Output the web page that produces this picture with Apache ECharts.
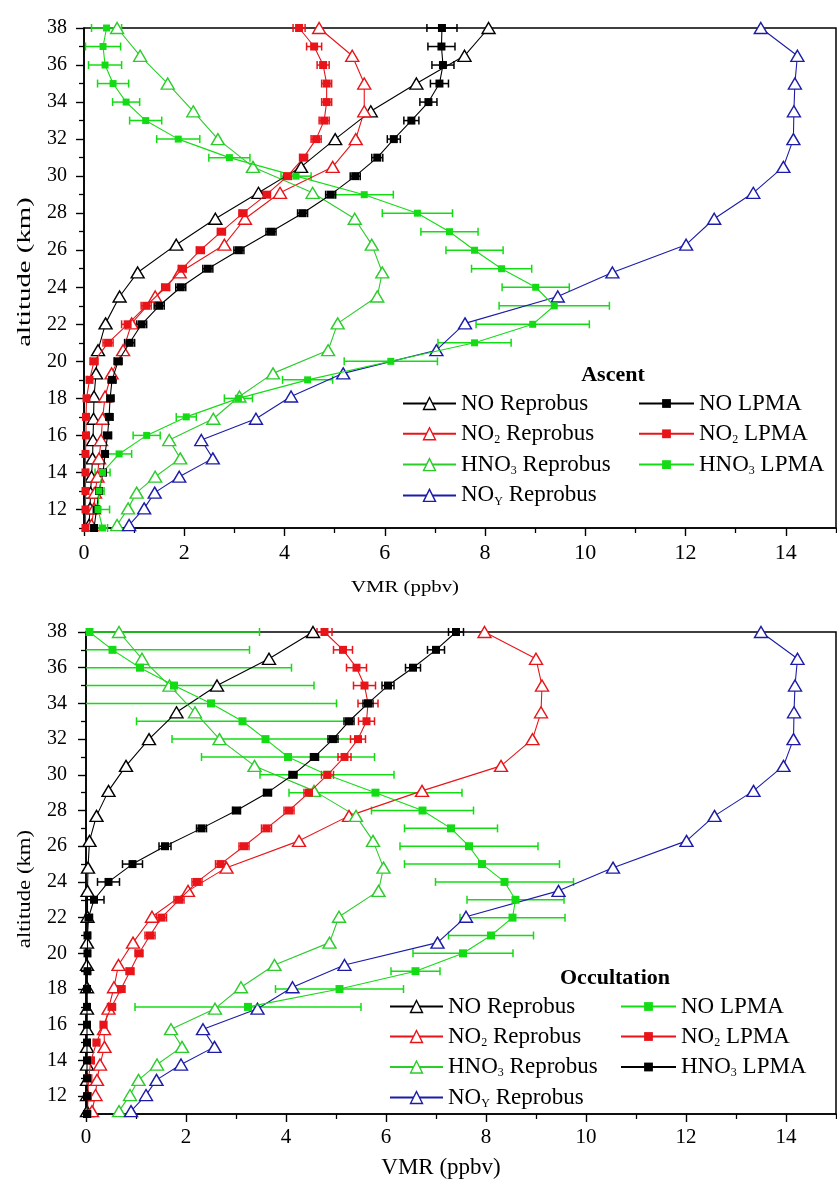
<!DOCTYPE html>
<html><head><meta charset="utf-8">
<script src="https://cdn.jsdelivr.net/npm/echarts@6/dist/echarts.min.js"></script>
<style>html,body{margin:0;padding:0;background:#fff}#c{width:837px;height:1181px}</style>
</head><body><div id="c"></div>
<script>
// ---------- data ----------
const altLPMA = [38,37,36,35,34,33,32,31,30,29,28,27,26,25,24,23,22,21,20,19,18,17,16,15,14,13,12,11];
const altLPMAocc = [38,37,36,35,34,33,32,31,30,29,28,27,26,25,24,23,22,21,20,19,18,17];
const altRep = [38.0,36.5,35.0,33.5,32.0,30.5,29.1,27.7,26.3,24.8,23.5,22.05,20.6,19.35,18.1,16.9,15.75,14.76,13.77,12.91,12.06,11.16];

// Reprobus (model)
const ascNORep  = [8.07,7.59,6.63,5.72,5.01,4.33,3.48,2.62,1.84,1.07,0.71,0.43,0.28,0.24,0.20,0.19,0.18,0.17,0.15,0.13,0.12,0.10];
const ascNO2Rep = [4.69,5.35,5.59,5.59,5.42,4.96,3.91,3.21,2.80,1.91,1.42,0.95,0.78,0.55,0.42,0.37,0.34,0.30,0.27,0.22,0.20,0.15];
const hno3Rep   = [0.66,1.12,1.67,2.18,2.67,3.37,4.56,5.40,5.74,5.95,5.85,5.06,4.87,3.77,3.10,2.58,1.70,1.92,1.42,1.05,0.88,0.66];
const noyRep    = [13.50,14.23,14.18,14.16,14.15,13.95,13.35,12.57,12.01,10.54,9.45,7.60,7.03,5.17,4.13,3.43,2.34,2.57,1.90,1.41,1.20,0.90];
const occNORep  = [4.54,3.66,2.62,1.81,1.26,0.80,0.45,0.21,0.07,0.04,0.03,0.03,0.02,0.02,0.02,0.02,0.02,0.02,0.02,0.02,0.02,0.02];
const occNO2Rep = [7.97,9.00,9.12,9.10,8.93,8.30,6.72,5.26,4.26,2.81,2.04,1.32,0.94,0.65,0.56,0.45,0.36,0.37,0.28,0.22,0.19,0.12];

// LPMA (ascent)
const ascNOLpma      = [7.14,7.13,7.16,7.09,6.87,6.53,6.18,5.85,5.41,4.92,4.36,3.73,3.09,2.47,1.93,1.50,1.15,0.91,0.68,0.56,0.52,0.50,0.47,0.42,0.38,0.30,0.25,0.20];
const ascNOLpmaErr   = [0.30,0.27,0.22,0.18,0.17,0.15,0.13,0.11,0.10,0.10,0.10,0.10,0.10,0.10,0.10,0.10,0.10,0.10,0.08,0.08,0.08,0.08,0.08,0.06,0.06,0.05,0.05,0.05];
const ascNO2Lpma     = [4.29,4.59,4.77,4.84,4.84,4.79,4.63,4.38,4.06,3.64,3.17,2.74,2.32,1.96,1.63,1.24,0.87,0.48,0.20,0.11,0.05,0.04,0.04,0.03,0.03,0.03,0.03,0.03];
const ascNO2LpmaErr  = [0.12,0.15,0.12,0.10,0.10,0.10,0.10,0.08,0.08,0.08,0.08,0.08,0.08,0.08,0.08,0.10,0.12,0.10,0.08,0.05,0.05,0.05,0.05,0.05,0.05,0.05,0.05,0.05];
const ascHNO3Lpma    = [0.45,0.38,0.42,0.58,0.84,1.23,1.88,2.90,4.23,5.59,6.65,7.29,7.79,8.33,9.01,9.38,8.95,7.79,6.12,4.46,3.08,2.04,1.25,0.70,0.37,0.30,0.28,0.37];
const ascHNO3LpmaErr = [0.30,0.35,0.33,0.31,0.27,0.32,0.43,0.41,0.30,0.58,0.70,0.57,0.57,0.60,0.67,1.10,1.13,0.73,0.93,0.50,0.28,0.20,0.27,0.25,0.15,0.10,0.23,0.10];

// LPMA (occultation) - labelled as in the original legend
const occGreenLpma    = [0.07,0.53,1.08,1.76,2.50,3.13,3.59,4.04,4.82,5.79,6.73,7.30,7.66,7.92,8.37,8.59,8.53,8.10,7.54,6.59,5.07,3.24];
const occGreenLpmaErr = [3.40,2.74,3.03,2.80,2.51,2.12,1.87,1.73,1.34,1.73,1.02,0.93,1.38,1.55,1.38,0.97,1.05,0.85,1.00,0.49,1.28,2.26];
const occRedLpma      = [4.77,5.14,5.41,5.57,5.64,5.61,5.44,5.17,4.83,4.46,4.06,3.61,3.16,2.69,2.22,1.86,1.51,1.28,1.06,0.88,0.70,0.51,0.35,0.21,0.10,0.05,0.04,0.03];
const occRedLpmaErr   = [0.15,0.19,0.20,0.22,0.20,0.16,0.15,0.13,0.12,0.10,0.10,0.10,0.10,0.10,0.10,0.10,0.10,0.10,0.08,0.08,0.08,0.08,0.06,0.06,0.05,0.05,0.05,0.05];
const occBlackLpma    = [7.40,7.00,6.54,6.04,5.64,5.26,4.94,4.57,4.14,3.63,3.01,2.31,1.58,0.93,0.45,0.16,0.05,0.03,0.03,0.03,0.02,0.02,0.02,0.02,0.02,0.02,0.02,0.02];
const occBlackLpmaErr = [0.15,0.17,0.15,0.12,0.10,0.10,0.10,0.08,0.08,0.08,0.08,0.10,0.12,0.20,0.22,0.20,0.08,0.05,0.05,0.05,0.05,0.05,0.05,0.05,0.05,0.05,0.05,0.05];

// ticks
const xMajor = [0,2,4,6,8,10,12,14];
const xMinor = [1,3,5,7,9,11,13,15];
const yMajor = [12,14,16,18,20,22,24,26,28,30,32,34,36,38];
const yMinor = [11,13,15,17,19,21,23,25,27,29,31,33,35,37];

// ---------- styling ----------
const FONT = "'Liberation Serif','Times New Roman',serif";
const BLACK = '#000000', RED = '#e8141a', GREEN = '#2ccc2c', GREENSQ = '#14dc14', BLUE = '#1c1ca8';

const LABELS = {
  a_NO_rep:   '{n|NO Reprobus}',
  a_NO2_rep:  '{n|NO}{s|2}{n| Reprobus}',
  a_HNO3_rep: '{n|HNO}{s|3}{n| Reprobus}',
  a_NOy_rep:  '{n|NO}{s|Y}{n| Reprobus}',
  a_NO_lpma:  '{n|NO LPMA}',
  a_NO2_lpma: '{n|NO}{s|2}{n| LPMA}',
  a_HNO3_lpma:'{n|HNO}{s|3}{n| LPMA}',
  o_NO_rep:   '{n|NO Reprobus}',
  o_NO2_rep:  '{n|NO}{s|2}{n| Reprobus}',
  o_HNO3_rep: '{n|HNO}{s|3}{n| Reprobus}',
  o_NOy_rep:  '{n|NO}{s|Y}{n| Reprobus}',
  o_NO_lpma:  '{n|NO LPMA}',
  o_NO2_lpma: '{n|NO}{s|2}{n| LPMA}',
  o_HNO3_lpma:'{n|HNO}{s|3}{n| LPMA}'
};
const rich = {
  n: {fontFamily: FONT, fontSize: 23, lineHeight: 24, color: '#000'},
  s: {fontFamily: FONT, fontSize: 12, lineHeight: 3, verticalAlign: 'bottom', color: '#000'}
};

function xAxes(grid, fs, margin) {
  const base = {gridIndex: grid, type: 'value', min: 0, max: 15, position: 'bottom',
    splitLine: {show: false}, minorTick: {show: false}};
  return [
    Object.assign({}, base, {
      axisLine: {show: true, onZero: false, lineStyle: {color: '#000', width: 1.6}},
      axisTick: {show: true, customValues: xMajor, length: 8, lineStyle: {color: '#000', width: 1.4}},
      axisLabel: {customValues: xMajor, fontFamily: FONT, fontSize: fs, color: '#000', margin: margin}
    }),
    Object.assign({}, base, {
      axisLine: {show: false, onZero: false},
      axisTick: {show: true, customValues: xMinor, length: 5, lineStyle: {color: '#000', width: 1.3}},
      axisLabel: {show: false}
    })
  ];
}
function yAxes(grid, fs, margin) {
  const base = {gridIndex: grid, type: 'value', min: 11, max: 38, position: 'left', offset: 0,
    splitLine: {show: false}, minorTick: {show: false}};
  return [
    Object.assign({}, base, {
      axisLine: {show: true, onZero: false, lineStyle: {color: '#000', width: 1.6}},
      axisTick: {show: true, customValues: yMajor, length: 8, lineStyle: {color: '#000', width: 1.4}},
      axisLabel: {customValues: yMajor, fontFamily: FONT, fontSize: fs, color: '#000', margin: margin}
    }),
    Object.assign({}, base, {
      axisLine: {show: false, onZero: false},
      axisTick: {show: true, customValues: yMinor, length: 5, lineStyle: {color: '#000', width: 1.3}},
      axisLabel: {show: false}
    })
  ];
}

function rep(name, xs, color, ax) {
  return {type: 'line', name: name, xAxisIndex: ax, yAxisIndex: ax,
    data: xs.map((v, i) => [v, altRep[i]]),
    symbol: 'triangle', symbolSize: [13, 11],
    lineStyle: {color: color, width: 1.1},
    itemStyle: {color: '#fff', borderColor: color, borderWidth: 1.4},
    emphasis: {disabled: true}, z: 3, animation: false};
}
function lpma(name, alts, xs, color, size, ax) {
  return {type: 'line', name: name, xAxisIndex: ax, yAxisIndex: ax,
    data: xs.map((v, i) => [v, alts[i]]),
    symbol: 'rect', symbolSize: size,
    lineStyle: {color: color, width: 1.1},
    itemStyle: {color: color},
    emphasis: {disabled: true}, z: 4, animation: false};
}
function errBars(name, alts, xs, errs, color, ax) {
  return {type: 'custom', name: name, xAxisIndex: ax, yAxisIndex: ax, silent: true, z: 2,
    animation: false,
    data: xs.map((v, i) => [v, alts[i], errs[i]]),
    encode: {x: 0, y: 1},
    renderItem: function (params, api) {
      const v = api.value(0), a = api.value(1), e = api.value(2);
      const cs = params.coordSys;
      const p1 = api.coord([v - e, a]), p2 = api.coord([v + e, a]);
      const L = Math.max(p1[0], cs.x), R = Math.min(p2[0], cs.x + cs.width);
      const st = {stroke: color, lineWidth: 1.5};
      const ch = [{type: 'line', shape: {x1: L, y1: p1[1], x2: R, y2: p1[1]}, style: st}];
      if (p1[0] >= cs.x) ch.push({type: 'line', shape: {x1: p1[0], y1: p1[1] - 4, x2: p1[0], y2: p1[1] + 4}, style: st});
      if (p2[0] <= cs.x + cs.width) ch.push({type: 'line', shape: {x1: p2[0], y1: p2[1] - 4, x2: p2[0], y2: p2[1] + 4}, style: st});
      return {type: 'group', children: ch};
    }};
}
function legend(names, left, top, itemWidth, itemHeight, gap) {
  return {orient: 'vertical', left: left, top: top, itemWidth: itemWidth, itemHeight: itemHeight,
    itemGap: gap, selectedMode: false, data: names, padding: 0,
    itemStyle: {borderWidth: 1.4},
    formatter: n => LABELS[n],
    textStyle: {fontFamily: FONT, fontSize: 23, color: '#000', rich: rich}};
}
function txt(s, x, y, size, opts) {
  return Object.assign({type: 'text', x: x, y: y, silent: true,
    style: {text: s, fontFamily: FONT, fontSize: size, fill: '#000', align: 'center', verticalAlign: 'middle',
      textAlign: 'center', textVerticalAlign: 'middle', fontWeight: (opts && opts.bold) ? 'bold' : 'normal'}},
    opts && opts.t ? opts.t : {});
}

const chart = echarts.init(document.getElementById('c'), null, {renderer: 'canvas'});
chart.setOption({
  animation: false,
  backgroundColor: '#fff',
  grid: [
    {left: 84, top: 28, width: 752, height: 500, show: true, borderColor: '#000', borderWidth: 1.5, backgroundColor: 'transparent'},
    {left: 86, top: 632, width: 750, height: 482, show: true, borderColor: '#000', borderWidth: 1.5, backgroundColor: 'transparent'}
  ],
  xAxis: [].concat(xAxes(0, 22, 14), xAxes(1, 21, 13)),
  yAxis: [].concat(yAxes(0, 20, 17), yAxes(1, 20, 19)),
  legend: [
    legend(['a_NO_rep', 'a_NO2_rep', 'a_HNO3_rep', 'a_NOy_rep'], 402, 392, 53, 15, 7.3),
    legend(['a_NO_lpma', 'a_NO2_lpma', 'a_HNO3_lpma'], 638, 392, 55, 11, 7.3),
    legend(['o_NO_rep', 'o_NO2_rep', 'o_HNO3_rep', 'o_NOy_rep'], 389, 995, 53, 15, 7),
    legend(['o_NO_lpma', 'o_NO2_lpma', 'o_HNO3_lpma'], 620, 995, 55, 11, 7)
  ],
  graphic: [
    txt('Ascent', 613, 375, 22, {bold: true}),
    txt('Occultation', 615, 978, 22, {bold: true}),
    txt('VMR (ppbv)', 405, 588, 16, {t: {scaleX: 1.3}}),
    txt('VMR (ppbv)', 441, 1168, 23),
    txt('altitude (km)', 25, 272, 18, {t: {rotation: Math.PI / 2, scaleX: 1.6}}),
    txt('altitude (km)', 25, 889, 19, {t: {rotation: Math.PI / 2, scaleX: 1.2}})
  ],
  series: [
    // ascent (grid 0 -> axis index 0)
    errBars('a_HNO3_err', altLPMA, ascHNO3Lpma, ascHNO3LpmaErr, GREENSQ, 0),
    errBars('a_NO2_err', altLPMA, ascNO2Lpma, ascNO2LpmaErr, RED, 0),
    errBars('a_NO_err', altLPMA, ascNOLpma, ascNOLpmaErr, BLACK, 0),
    rep('a_NO_rep', ascNORep, BLACK, 0),
    rep('a_NO2_rep', ascNO2Rep, RED, 0),
    rep('a_HNO3_rep', hno3Rep, GREEN, 0),
    rep('a_NOy_rep', noyRep, BLUE, 0),
    lpma('a_NO_lpma', altLPMA, ascNOLpma, BLACK, 8, 0),
    lpma('a_NO2_lpma', altLPMA, ascNO2Lpma, RED, 8, 0),
    lpma('a_HNO3_lpma', altLPMA, ascHNO3Lpma, GREENSQ, 7, 0),
    // occultation (grid 1 -> axis index 2)
    errBars('o_green_err', altLPMAocc, occGreenLpma, occGreenLpmaErr, GREENSQ, 2),
    errBars('o_red_err', altLPMA, occRedLpma, occRedLpmaErr, RED, 2),
    errBars('o_black_err', altLPMA, occBlackLpma, occBlackLpmaErr, BLACK, 2),
    rep('o_NO_rep', occNORep, BLACK, 2),
    rep('o_NO2_rep', occNO2Rep, RED, 2),
    rep('o_HNO3_rep', hno3Rep, GREEN, 2),
    rep('o_NOy_rep', noyRep, BLUE, 2),
    lpma('o_NO_lpma', altLPMAocc, occGreenLpma, GREENSQ, 8, 2),
    lpma('o_NO2_lpma', altLPMA, occRedLpma, RED, 8, 2),
    lpma('o_HNO3_lpma', altLPMA, occBlackLpma, BLACK, 8, 2)
  ]
});
</script></body></html>
